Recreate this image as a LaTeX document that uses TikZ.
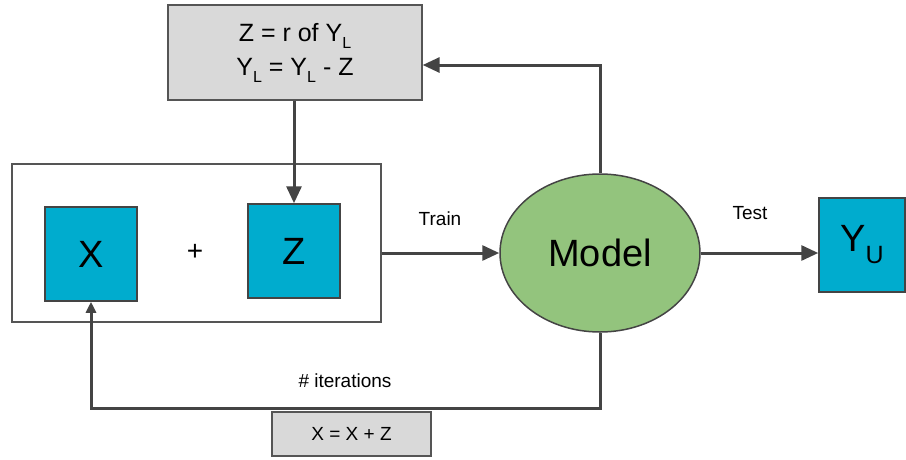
\documentclass[tikz,border=0pt]{standalone}
\usepackage{fontspec}
\setmainfont{Liberation Sans}
\usetikzlibrary{arrows.meta,shapes.geometric,calc}
\definecolor{cyanbox}{HTML}{00ACCE}
\definecolor{graybox}{HTML}{D9D9D9}
\definecolor{greenm}{HTML}{93C47D}
\definecolor{edge}{HTML}{444444}
\definecolor{bord}{HTML}{555555}
\newcommand{\lsub}[1]{\raisebox{-7pt}{\fontsize{16}{16}\selectfont #1}}
\tikzset{
  graynode/.style={draw=bord, line width=1.3pt, fill=graybox, inner sep=0pt, align=center},
  bluebox/.style={draw=edge, line width=1.5pt, fill=cyanbox, inner sep=0pt, minimum width=92pt, minimum height=94pt, font=\fontsize{38}{38}\selectfont},
  conn/.style={draw=edge, line width=3pt, -{Triangle[length=17pt,width=15pt]}},
  smallconn/.style={draw=edge, line width=3pt, -{Triangle[length=11pt,width=10pt]}},
  lbl/.style={font=\fontsize{19}{19}\selectfont, inner sep=0pt}
}
\begin{document}
\begin{tikzpicture}[x=1pt,y=-1pt]
\useasboundingbox (0,0) rectangle (906,459);
% container
\node[draw=bord, line width=1.1pt, minimum width=369pt, minimum height=158pt, inner sep=0pt] (cont) at (196.5,243) {};
% top box
\node[graynode, minimum width=254pt, minimum height=95pt, font=\fontsize{25}{34}\selectfont] (top) at (295,52.5)
  {Z = r of Y\lsub{L}\\ Y\lsub{L} = Y\lsub{L} - Z};
% blue boxes
\node[bluebox] (xbox) at (91,254) {X};
\node[bluebox] (zbox) at (294,251) {Z};
\node[font=\fontsize{28}{28}\selectfont] (plus) at (195,252) {+};
\node[bluebox, minimum width=86pt] (yu) at (862,245) {Y\raisebox{-12pt}{\fontsize{25}{25}\selectfont U}};
% model
\node[ellipse, draw=edge, line width=1.5pt, fill=greenm, minimum width=200pt, minimum height=158pt, inner sep=0pt, font=\fontsize{38}{38}\selectfont] (model) at (600,253) {Model};
% bottom box
\node[graynode, minimum width=159pt, minimum height=44pt, font=\fontsize{19}{19}\selectfont] (upd) at (351.5,434) {X = X + Z};
% labels
\node[lbl] (train) at (440,219) {Train};
\node[lbl] (test) at (750,213) {Test};
\node[lbl] (iter) at (345,381) {\# iterations};
% connectors
\draw[conn] (top.south -| zbox.north) -- (zbox.north);
\draw[conn] (model.west -| cont.east) -- (model.west);
\draw[conn] (model.north) |- ([yshift=-12.5pt]top.east);
\draw[conn] (model.east) -- (model.east -| yu.west);
\draw[smallconn] (model.south) -- ++(0,76) -| (xbox.south);
\end{tikzpicture}
\end{document}
